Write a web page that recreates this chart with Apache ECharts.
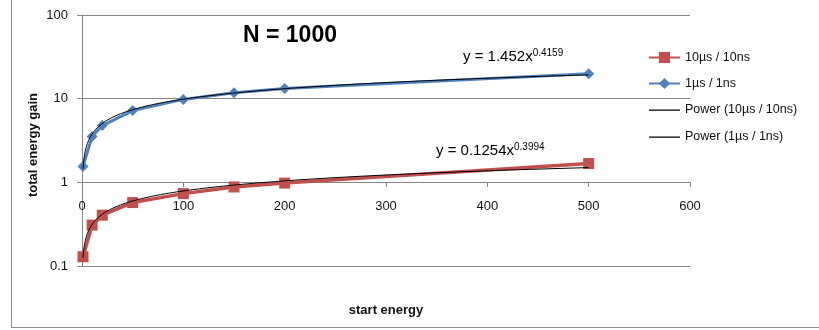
<!DOCTYPE html>
<html><head><meta charset="utf-8">
<script src="https://cdn.jsdelivr.net/npm/echarts@6/dist/echarts.min.js"></script>
<style>html,body{margin:0;padding:0;background:#fff}#c{width:819px;height:330px}</style>
</head><body><div id="c"></div>
<script>
// Data
const startEnergy = [1, 10, 20, 50, 100, 150, 200, 500];
const gain10us = [0.129, 0.308, 0.405, 0.573, 0.733, 0.88, 0.98, 1.68];
const gain1us = [1.55, 3.53, 4.77, 7.2, 9.8, 11.8, 13.2, 19.9];
const seriesNames = ['10µs / 10ns', '1µs / 1ns', 'Power (10µs / 10ns)', 'Power (1µs / 1ns)'];
// Power trendline coefficients shown on the chart: y = a * x^b
const trendA = [0.1254, 1.452];
const trendB = [0.3994, 0.4159];
const xTicks = [0, 100, 200, 300, 400, 500, 600];
const yTicks = [0.1, 1, 10, 100];

const FONT = '"Liberation Sans", Arial, sans-serif';
function pairs(xs, ys) { return xs.map((x, i) => [x, ys[i]]); }
function trend(a, b) {
  const pts = [];
  const x0 = startEnergy[0], x1 = startEnergy[startEnergy.length - 1];
  const n = 200;
  for (let i = 0; i <= n; i++) {
    const x = x0 * Math.pow(x1 / x0, i / n);
    pts.push([x, a * Math.pow(x, b)]);
  }
  return pts;
}
const thinLineIcon = 'path://M0,0L0,0.01M0,6.4L31,6.4L31,7.7L0,7.7ZM31,14L31,14.01';

const chart = echarts.init(document.getElementById('c'), null, { renderer: 'canvas' });
chart.setOption({
  animation: false,
  backgroundColor: '#fff',
  textStyle: { fontFamily: FONT },
  grid: { left: 82, right: 129, top: 15, bottom: 64, containLabel: false },
  xAxis: {
    type: 'value', min: xTicks[0], max: xTicks[xTicks.length - 1], interval: 100,
    offset: -84,
    axisLine: { show: true, lineStyle: { color: '#868686', width: 1 } },
    axisTick: { show: true, length: 5, lineStyle: { color: '#868686' } },
    axisLabel: { color: '#111', fontSize: 13, margin: 18, fontFamily: FONT },
    splitLine: { show: false },
    name: 'start energy', nameLocation: 'middle', nameGap: 122,
    nameTextStyle: { fontWeight: 'bold', fontSize: 13, color: '#111', fontFamily: FONT }
  },
  yAxis: {
    type: 'log', logBase: 10, min: yTicks[0], max: yTicks[yTicks.length - 1],
    axisLine: { show: true, lineStyle: { color: '#868686' } },
    axisTick: { show: true, length: 5, lineStyle: { color: '#868686' } },
    axisLabel: { color: '#111', fontSize: 13, margin: 14, fontFamily: FONT,
      formatter: v => String(+v.toPrecision(3)) },
    splitLine: { show: true, lineStyle: { color: '#868686', width: 1 } }
  },
  legend: {
    orient: 'vertical', left: 643, top: 46,
    itemWidth: 31, itemHeight: 14, itemGap: 13,
    data: [
      { name: seriesNames[0] },
      { name: seriesNames[1] },
      { name: seriesNames[2], icon: thinLineIcon },
      { name: seriesNames[3], icon: thinLineIcon }
    ],
    textStyle: { fontSize: 12.5, color: '#111', fontFamily: FONT }
  },
  series: [
    { name: seriesNames[0], type: 'line', data: pairs(startEnergy, gain10us),
      symbol: 'rect', symbolSize: 11, showSymbol: true,
      lineStyle: { color: '#C0504D', width: 3.5 }, itemStyle: { color: '#C0504D' }, z: 2 },
    { name: seriesNames[1], type: 'line', data: pairs(startEnergy, gain1us),
      symbol: 'diamond', symbolSize: 11, showSymbol: true,
      lineStyle: { color: '#4F81BD', width: 3 }, itemStyle: { color: '#4F81BD' }, z: 2 },
    { name: seriesNames[2], type: 'line', data: trend(trendA[0], trendB[0]),
      symbol: 'none', showSymbol: false, lineStyle: { color: '#000', width: 1 },
      itemStyle: { color: '#000' }, z: 3 },
    { name: seriesNames[3], type: 'line', data: trend(trendA[1], trendB[1]),
      symbol: 'none', showSymbol: false, lineStyle: { color: '#000', width: 1 },
      itemStyle: { color: '#000' }, z: 3 }
  ],
  graphic: [
    { type: 'line', shape: { x1: 11.5, y1: 0, x2: 11.5, y2: 327.5 }, style: { stroke: '#8a8a8a', lineWidth: 1 } },
    { type: 'line', shape: { x1: 11, y1: 327.5, x2: 819, y2: 327.5 }, style: { stroke: '#8a8a8a', lineWidth: 1 } },
    { type: 'text', x: 33, y: 145, rotation: Math.PI / 2,
      style: { text: 'total energy gain', font: 'bold 13px ' + FONT, fill: '#111', align: 'center', verticalAlign: 'middle' } },
    { type: 'text', left: 243, top: 24, style: { text: 'N = 1000', font: 'bold 23px ' + FONT, fill: '#000' } },
    { type: 'text', left: 463, top: 48, style: {
      text: '{a|y = 1.452x}{s|' + trendB[1] + '}',
      rich: { a: { fontSize: 15, fontFamily: FONT, fill: '#000', lineHeight: 18 },
              s: { fontSize: 10, fontFamily: FONT, fill: '#000', verticalAlign: 'top', padding: [0, 0, 8, 0] } } } },
    { type: 'text', left: 436, top: 142, style: {
      text: '{a|y = 0.1254x}{s|' + trendB[0] + '}',
      rich: { a: { fontSize: 15, fontFamily: FONT, fill: '#000', lineHeight: 18 },
              s: { fontSize: 10, fontFamily: FONT, fill: '#000', verticalAlign: 'top', padding: [0, 0, 8, 0] } } } }
  ]
});
</script></body></html>
